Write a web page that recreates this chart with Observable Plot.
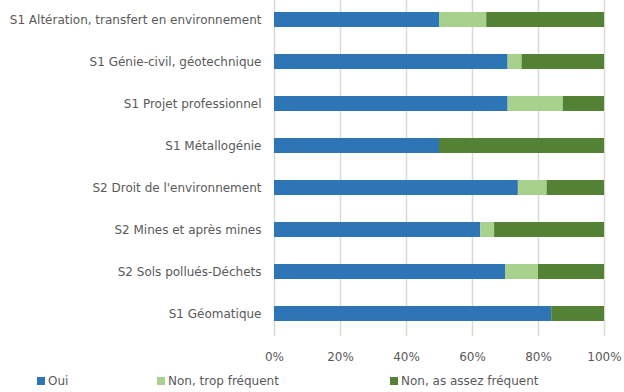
<!DOCTYPE html>
<html>
<head>
<meta charset="utf-8">
<script src="https://cdn.jsdelivr.net/npm/d3@7"></script>
<script src="https://cdn.jsdelivr.net/npm/@observablehq/plot@0.6"></script>
<style>
  html, body { margin: 0; padding: 0; background: #fff; }
  #chart { width: 624px; height: 392px; position: relative; overflow: hidden; font-family: "DejaVu Sans", sans-serif; }
  #chart svg { display: block; }
  #legend { position: relative; height: 24px; font-size: 12px; color: #595959; }
  #legend .item { position: absolute; top: 6px; line-height: 14px; white-space: nowrap; display: flex; align-items: center; }
  #legend .sw { display: inline-block; width: 8px; height: 8px; margin-right: 3px; }
</style>
</head>
<body>
<div id="chart"></div>
<script>
const categories = [
  "S1 Altération, transfert en environnement",
  "S1 Génie-civil, géotechnique",
  "S1 Projet professionnel",
  "S1 Métallogénie",
  "S2 Droit de l'environnement",
  "S2 Mines et après mines",
  "S2 Sols pollués-Déchets",
  "S1 Géomatique"
];
const series = ["Oui", "Non, trop fréquent", "Non, as assez fréquent"];
const oui   = [50, 70.8, 70.8, 50, 73.9, 62.5, 70, 84];
const trop  = [14.3, 4.2, 16.7, 0, 8.7, 4.2, 10, 0];
const assez = [35.7, 25, 12.5, 50, 17.4, 33.3, 20, 16];
const xTicks = [0, 20, 40, 60, 80, 100];
const colors = ["#2E75B6", "#A9D18E", "#548235"];

const seriesValues = [oui, trop, assez];
const data = [];
categories.forEach((c, i) => {
  series.forEach((s, j) => data.push({category: c, series: s, value: seriesValues[j][i]}));
});

const chart = Plot.plot({
  width: 624,
  height: 368,
  marginTop: -4,
  marginBottom: 32,
  marginLeft: 274,
  marginRight: 20,
  style: {fontFamily: "DejaVu Sans, sans-serif", fontSize: "12px", color: "#595959", background: "#fff"},
  x: {domain: [0, 100], ticks: xTicks, tickFormat: d => d + "%", tickSize: 0, tickPadding: 16, label: null},
  y: {domain: categories, paddingInner: 0.65, paddingOuter: 0.325, tickSize: 0, tickPadding: 13, label: null},
  color: {domain: series, range: colors},
  marks: [
    Plot.ruleX(xTicks, {stroke: "#d9d9d9", strokeWidth: 1.5}),
    Plot.barX(data, {x: "value", y: "category", fill: "series", order: series}),
    Plot.axisX({ticks: xTicks, tickFormat: d => d + "%", tickSize: 0, tickPadding: 16, fill: "#595959", fontSize: 12}),
    Plot.axisY({tickSize: 0, tickPadding: 13, fill: "#595959", fontSize: 12})
  ]
});
document.getElementById("chart").appendChild(chart);

const legendLefts = [37, 157, 390];
const legend = document.createElement("div");
legend.id = "legend";
series.forEach((s, i) => {
  const item = document.createElement("div");
  item.className = "item";
  item.style.left = legendLefts[i] + "px";
  const sw = document.createElement("span");
  sw.className = "sw";
  sw.style.background = colors[i];
  item.appendChild(sw);
  item.appendChild(document.createTextNode(s));
  legend.appendChild(item);
});
document.getElementById("chart").appendChild(legend);
</script>
</body>
</html>
